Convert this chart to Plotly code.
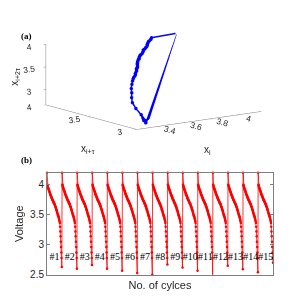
import plotly.graph_objects as go

# ---------------- data ----------------
n_cycles = 15
charge_v = 4.2
discharge_v = [4.00, 3.985, 3.97, 3.955, 3.94, 3.93, 3.915, 3.905, 3.895, 3.88,
               3.87, 3.855, 3.84, 3.83, 3.82, 3.81, 3.80, 3.79, 3.775, 3.765,
               3.755, 3.745, 3.74, 3.73, 3.72, 3.71, 3.70, 3.69, 3.685, 3.675,
               3.665, 3.65, 3.64, 3.63, 3.615, 3.60, 3.59, 3.575, 3.56, 3.545,
               3.53, 3.515, 3.50, 3.49, 3.475, 3.46, 3.445, 3.43, 3.41]
plunge_v = [3.39, 3.36, 3.30, 3.22, 3.14, 3.05, 2.96, 2.87, 2.78]
cycle_min = [2.63, 2.60, 2.66, 2.60, 2.565, 2.53, 2.50, 2.67, 2.62, 2.565,
             2.49, 2.65, 2.59, 2.54, 2.70]
cycle_labels = ['#1', '#2', '#3', '#4', '#5', '#6', '#7', '#8', '#9', '#10',
                '#11', '#12', '#13', '#14', '#15']
label_v = 2.79
lag = 5  # embedding delay (samples)

y_ticks = [2.5, 3, 3.5, 4]
x3_ticks = [3.4, 3.6, 3.8, 4]
y3_ticks = [3, 3.5, 4]
z3_ticks = [3, 3.5, 4]

# ---------------- build series ----------------
cycles = [[charge_v] + discharge_v + plunge_v + [m] for m in cycle_min]
N = len(cycles[0])
volt = [v for c in cycles for v in c]
idx = list(range(len(volt)))
label_x = [(k + 0.5) * N for k in range(n_cycles)]

# delay embedding inside each cycle
ex, ey, ez = [], [], []
fx, fy, fz = [], [], []
prev_last = None
for c in cycles:
    pts = [(c[j], c[j + lag], c[j + 2 * lag]) for j in range(N - 2 * lag)]
    ex += [p[0] for p in pts] + [None]
    ey += [p[1] for p in pts] + [None]
    ez += [p[2] for p in pts] + [None]
    if prev_last is not None:
        fx += [prev_last[0], pts[0][0], None]
        fy += [prev_last[1], pts[0][1], None]
        fz += [prev_last[2], pts[0][2], None]
    prev_last = pts[-1]

blue = 'rgb(0,0,255)'
red = 'rgb(255,0,0)'
axc = '#7f7f7f'
txtc = '#262626'
sans = 'Liberation Sans, Arial, sans-serif'
serif = 'Liberation Serif, Times New Roman, serif'

fig = go.Figure()

fig.add_trace(go.Scatter3d(x=fx, y=fy, z=fz, mode='lines',
                           line=dict(color=blue, width=1), showlegend=False,
                           connectgaps=False))
fig.add_trace(go.Scatter3d(x=ex, y=ey, z=ez, mode='lines+markers',
                           line=dict(color=blue, width=3),
                           marker=dict(color=blue, size=2),
                           showlegend=False, connectgaps=False))

fig.add_trace(go.Scatter(x=idx, y=volt, mode='lines+markers',
                         line=dict(color=red, width=0.8),
                         marker=dict(color=red, size=2.5),
                         cliponaxis=False, showlegend=False,
                         xaxis='x', yaxis='y'))
fig.add_trace(go.Scatter(x=label_x, y=[label_v] * n_cycles, mode='text',
                         text=cycle_labels,
                         textfont=dict(family=serif, size=10, color='black'),
                         cliponaxis=False, showlegend=False,
                         xaxis='x', yaxis='y'))

ax3 = dict(showgrid=False, showbackground=False, showline=True,
           linecolor=axc, linewidth=1, zeroline=False, ticks='outside',
           ticklen=3, tickcolor=axc, showspikes=False,
           tickfont=dict(family=sans, size=10, color=txtc),
           title=dict(text=''))

r = 1.6
s = 2.2
fig.update_layout(
    width=293, height=307,
    margin=dict(l=0, r=0, t=0, b=0),
    paper_bgcolor='white', plot_bgcolor='white',
    scene=dict(
        domain=dict(x=[0.024, 0.968], y=[0.535, 1.0]),
        xaxis=dict(ax3, range=[3.244, 4.19], tickvals=x3_ticks,
                   ticktext=['3.4', '3.6', '3.8', '4']),
        yaxis=dict(ax3, range=[2.998, 4.0], tickvals=y3_ticks,
                   ticktext=['3', '3.5', '4']),
        zaxis=dict(ax3, range=[2.65, 4.001], tickvals=z3_ticks,
                   ticktext=['3', '3.5', '4']),
        aspectmode='manual', aspectratio=dict(x=s, y=s, z=0.40 * s),
        camera=dict(eye=dict(x=-0.579 * r, y=-0.791 * r, z=0.198 * r),
                    up=dict(x=0, y=0, z=1), center=dict(x=0, y=0, z=0),
                    projection=dict(type='orthographic')),
    ),
    xaxis=dict(domain=[39 / 293, 265 / 293], range=[0, len(volt) - 1],
               showticklabels=False, ticks='', showgrid=False, zeroline=False,
               showline=True, mirror=True, linecolor=axc, linewidth=1,
               title=dict(text='No. of cylces', standoff=6,
                          font=dict(family=sans, size=11, color=txtc))),
    yaxis=dict(domain=[1 - 272 / 307, 1 - 168 / 307], range=[2.5, 4.2],
               tickvals=y_ticks, ticktext=['2.5', '3', '3.5', '4'],
               ticks='inside', ticklen=3, tickcolor=axc, showgrid=False,
               zeroline=False, showline=True, mirror='ticks', linecolor=axc,
               linewidth=1, tickfont=dict(family=sans, size=10, color=txtc),
               title=dict(text='Voltage', standoff=4,
                          font=dict(family=sans, size=11, color=txtc))),
    annotations=[
        dict(text='<b>(a)</b>', x=19 / 293, y=1 - 29 / 307, xref='paper', yref='paper',
             xanchor='center', yanchor='middle',
             showarrow=False, font=dict(family=serif, size=9, color='black')),
        dict(text='<b>(b)</b>', x=19 / 293, y=1 - 155 / 307, xref='paper', yref='paper',
             xanchor='center', yanchor='middle',
             showarrow=False, font=dict(family=serif, size=9, color='black')),
        dict(text='x<sub>i+2τ</sub>', x=7 / 293, y=1 - 70 / 307, xref='paper', yref='paper',
             xanchor='center', yanchor='middle',
             showarrow=False, textangle=-90, font=dict(family=sans, size=10, color=txtc)),
        dict(text='x<sub>i+τ</sub>', x=80 / 293, y=1 - 144 / 307, xref='paper', yref='paper',
             xanchor='center', yanchor='middle',
             showarrow=False, font=dict(family=sans, size=10, color=txtc)),
        dict(text='x<sub>i</sub>', x=199 / 293, y=1 - 145 / 307, xref='paper', yref='paper',
             xanchor='center', yanchor='middle',
             showarrow=False, font=dict(family=sans, size=10, color=txtc)),
    ],
)

fig.write_html('out.html')
